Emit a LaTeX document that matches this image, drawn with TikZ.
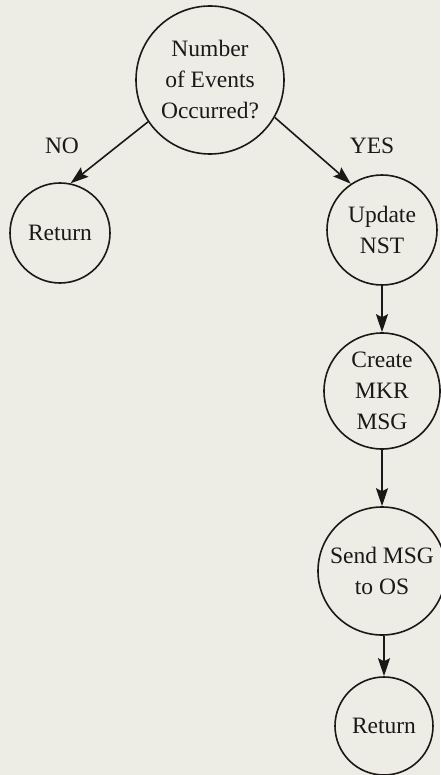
\documentclass[tikz,border=0pt]{standalone}
\usepackage{fontspec}
\setmainfont{Liberation Serif}
\usetikzlibrary{arrows.meta}
\definecolor{paper}{RGB}{237,237,229}
\definecolor{ink}{RGB}{28,24,24}
\begin{document}
\begin{tikzpicture}[x=1pt,y=-1pt,
  state/.style={draw=ink,circle,line width=1.6pt,inner sep=0pt,align=center,text=ink,
    font=\fontsize{23.5}{31}\selectfont},
  lbl/.style={text=ink,font=\fontsize{23.5}{28}\selectfont},
  conn/.style={draw=ink,line width=1.6pt,-{Stealth[length=18pt,width=12pt,inset=3pt]}}]
\fill[paper] (0,0) rectangle (440,775);
\useasboundingbox (0,0) rectangle (440,775);
\node[state,minimum size=148pt] (q) at (210,80) {Number\\of Events\\Occurred?};
\node[state,minimum size=100pt] (r1) at (60,233) {Return};
\node[state,minimum size=110pt] (u) at (382,230) {Update\\NST};
\node[state,minimum size=116pt] (c) at (382,391) {Create\\MKR\\MSG};
\node[state,minimum size=128pt] (s) at (382,571) {Send MSG\\to OS};
\node[state,minimum size=98pt] (r2) at (384,726) {Return};
\node[lbl] (no) at (62,146) {NO};
\node[lbl] (yes) at (372,146) {YES};
\draw[conn] (q.214) -- (r1.78);
\draw[conn] (q.-30) -- (u.124);
\draw[conn] (u.south) -- (c.north);
\draw[conn] (c.south) -- (s.north);
\draw[conn] (r2.north |- s.south) -- (r2.north);
\end{tikzpicture}
\end{document}
